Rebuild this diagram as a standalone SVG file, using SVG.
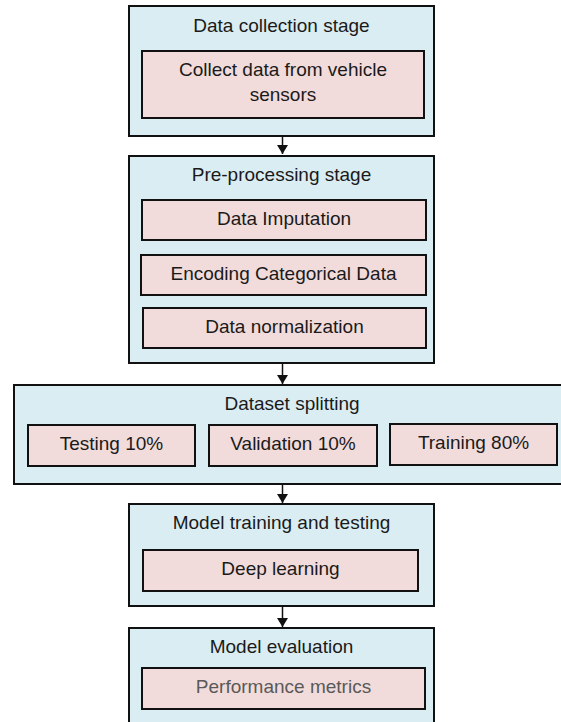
<svg xmlns="http://www.w3.org/2000/svg" width="561" height="722" viewBox="0 0 561 722">
  <style>
    .stage { fill: #daedf3; stroke: #111; stroke-width: 2; }
    .step { fill: #f2dcdb; stroke: #111; stroke-width: 2; }
    text { font-family: "Liberation Sans", Arial, sans-serif; font-size: 19px; fill: #1a1a1a; text-anchor: middle; dominant-baseline: central; }
    .muted { fill: #595959; }
    .conn { stroke: #111; stroke-width: 1.5; fill: none; }
  </style>
  <defs>
    <marker id="arrow" markerWidth="9" markerHeight="11" refX="9" refY="5.5" orient="auto" markerUnits="userSpaceOnUse" viewBox="0 0 9 11">
      <path d="M0,0 L9,5.5 L0,11 Z" fill="#111"/>
    </marker>
  </defs>

  <rect width="561" height="722" fill="#ffffff"/>

  <!-- Stage 1: data collection -->
  <g id="stage-collection">
    <rect class="stage" x="129" y="6" width="305" height="130"/>
    <text x="281.5" y="25">Data collection stage</text>
    <g id="step-collect">
      <rect class="step" x="142" y="51" width="282" height="67"/>
      <text x="283" y="69">Collect data from vehicle</text>
      <text x="283" y="94">sensors</text>
    </g>
  </g>

  <!-- Stage 2: pre-processing -->
  <g id="stage-preprocessing">
    <rect class="stage" x="129" y="156" width="305" height="207"/>
    <text x="281.5" y="174">Pre-processing stage</text>
    <g id="step-imputation">
      <rect class="step" x="142" y="200" width="284" height="40"/>
      <text x="284" y="218.5">Data Imputation</text>
    </g>
    <g id="step-encoding">
      <rect class="step" x="141" y="255" width="285" height="40"/>
      <text x="283.5" y="273.5">Encoding Categorical Data</text>
    </g>
    <g id="step-normalization">
      <rect class="step" x="143" y="308" width="283" height="40"/>
      <text x="284.5" y="326.5">Data normalization</text>
    </g>
  </g>

  <!-- Stage 3: dataset splitting -->
  <g id="stage-splitting">
    <rect class="stage" x="14" y="385" width="560" height="99"/>
    <text x="292" y="403">Dataset splitting</text>
    <g id="split-testing">
      <rect class="step" x="28" y="425" width="167" height="41"/>
      <text x="111.5" y="443">Testing 10%</text>
    </g>
    <g id="split-validation">
      <rect class="step" x="209" y="425" width="168" height="41"/>
      <text x="293" y="443">Validation 10%</text>
    </g>
    <g id="split-training">
      <rect class="step" x="390" y="424" width="167" height="41"/>
      <text x="473.5" y="442.5">Training 80%</text>
    </g>
  </g>

  <!-- Stage 4: model training and testing -->
  <g id="stage-training">
    <rect class="stage" x="129" y="504" width="305" height="102"/>
    <text x="281.5" y="522">Model training and testing</text>
    <g id="step-deep-learning">
      <rect class="step" x="143" y="550" width="275" height="41"/>
      <text x="280.5" y="568.5">Deep learning</text>
    </g>
  </g>

  <!-- Stage 5: model evaluation -->
  <g id="stage-evaluation">
    <rect class="stage" x="129" y="628" width="305" height="100"/>
    <text x="281.5" y="646">Model evaluation</text>
    <g id="step-metrics">
      <rect class="step" x="142" y="668" width="283" height="41"/>
      <text class="muted" x="283.5" y="686.5">Performance metrics</text>
    </g>
  </g>

  <!-- Connectors between stages -->
  <g id="connectors">
    <line class="conn" x1="282.5" y1="137" x2="282.5" y2="154" marker-end="url(#arrow)"/>
    <line class="conn" x1="282.5" y1="364" x2="282.5" y2="384" marker-end="url(#arrow)"/>
    <line class="conn" x1="282.5" y1="485" x2="282.5" y2="503" marker-end="url(#arrow)"/>
    <line class="conn" x1="282.5" y1="607" x2="282.5" y2="627" marker-end="url(#arrow)"/>
  </g>
</svg>
